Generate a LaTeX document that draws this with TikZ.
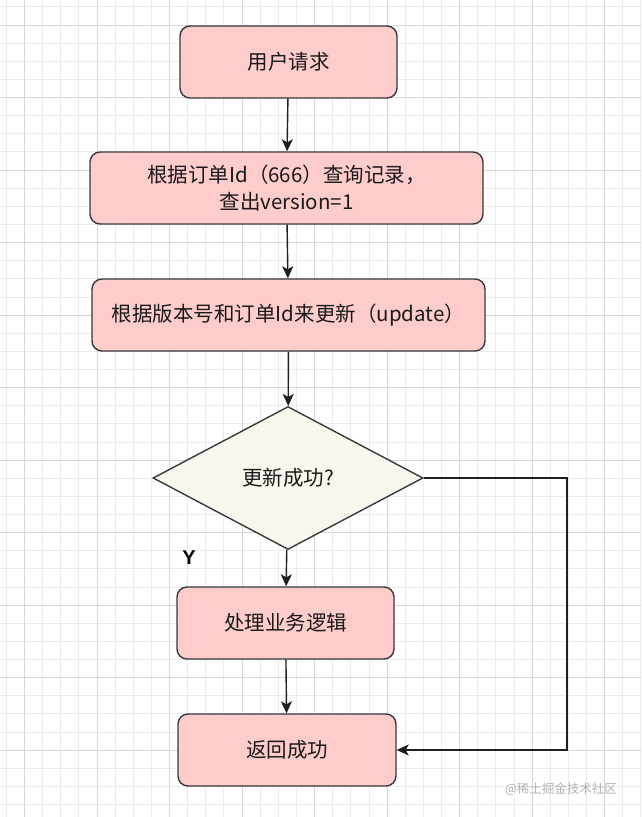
\documentclass[tikz,border=0pt]{standalone}
\usepackage{fontspec}
\setmainfont{Noto Sans CJK SC}
\newfontfamily\ylabelfont{Liberation Sans}
\usetikzlibrary{shapes.geometric, arrows.meta, positioning, calc}
\definecolor{boxred}{HTML}{FFCCCC}
\definecolor{boxline}{HTML}{36393D}
\definecolor{decbeige}{HTML}{F9F7ED}
\definecolor{gridminor}{HTML}{EBEBEB}
\definecolor{gridmajor}{HTML}{D8D8D8}

\begin{document}
\begin{tikzpicture}[x=1pt,y=-1pt,
  procbox/.style={draw=boxline, fill=boxred, rounded corners=10pt, line width=1.4pt,
    minimum width=217pt, minimum height=72pt, inner sep=0pt, align=center,
    text=black!90, font=\fontsize{20.5}{27}\selectfont},
  widebox/.style={procbox, minimum width=393pt},
  decision/.style={diamond, draw=boxline, fill=decbeige, line width=1.4pt, aspect=1.9,
    minimum width=270pt, minimum height=143pt, inner sep=0pt,
    text=black!90, font=\fontsize{20.5}{27}\selectfont},
  flow/.style={draw=black!88, line width=1.4pt, -{Stealth[length=12pt, width=11pt, inset=3pt]}}]
\useasboundingbox (0,0) rectangle (641,817);
\fill[white] (0,0) rectangle (641,817);

% Background grid
\foreach \k in {-1,...,35} {
  \draw[gridminor, line width=0.9pt] ({24.5+18.13*\k},0) -- ({24.5+18.13*\k},817);
}
\foreach \k in {-1,...,45} {
  \draw[gridminor, line width=0.9pt] (0,{25+18.13*\k}) -- (641,{25+18.13*\k});
}
\foreach \k in {0,...,8} {
  \draw[gridmajor, line width=0.9pt] ({24.5+72.52*\k},0) -- ({24.5+72.52*\k},817);
}
\foreach \k in {0,...,11} {
  \draw[gridmajor, line width=0.9pt] (0,{25+72.52*\k}) -- (641,{25+72.52*\k});
}

% Steps
\node[procbox] (request) at (288.5,62) {用户请求};
\node[widebox] (query) at (286.5,188) {根据订单Id（666）查询记录，\\查出version=1};
\node[widebox] (update) at (288.5,315) {根据版本号和订单Id来更新（update）};
\node[decision] (check) at (288,478) {更新成功?};
\node[procbox] (logic) at (285.5,623) {处理业务逻辑};
\node[procbox, minimum width=218pt] (done) at (287,750) {返回成功};

% Connectors
\draw[flow] (request) -- (query);
\draw[flow] (query) -- (update);
\draw[flow] (update) -- (check);
\draw[flow] (check) -- (logic);
\draw[flow] (logic) -- (done);
\coordinate (turn) at (567,478);
\draw[flow] (check.east) -- (turn) |- (done.east);

\node[font=\ylabelfont\bfseries\fontsize{20}{24}\selectfont] (yes) at (189,558) {Y};

% Watermark
\node[text=black!30, font=\fontsize{12.5}{15}\selectfont] (mark) at (561,789) {@稀土掘金技术社区};
\end{tikzpicture}
\end{document}
